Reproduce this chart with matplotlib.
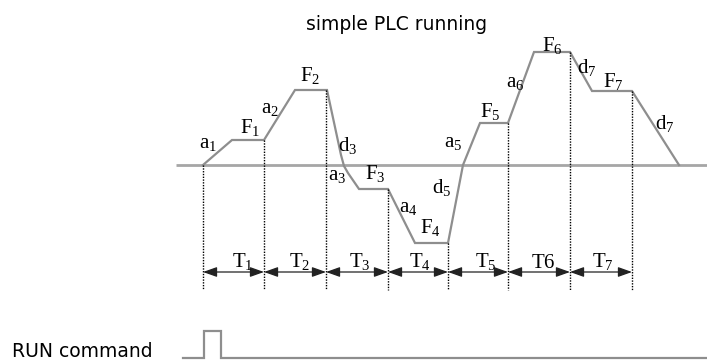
import numpy as np
import matplotlib
matplotlib.use("Agg")
import matplotlib.pyplot as plt

plt.rcParams['mathtext.fontset'] = 'custom'
plt.rcParams['mathtext.rm'] = 'Liberation Serif'
plt.rcParams['mathtext.it'] = 'Liberation Serif'

# ---- data (time axis, frequency axis; baseline frequency = 0) ----
profile_t = [203, 232, 264, 295, 327, 341, 344, 348, 359, 388, 415, 448, 463, 480, 508, 534, 570, 592, 632, 679]
profile_f = [0, 25, 25, 75, 75, 10, -1, -8, -24, -24, -78, -78, 0, 42, 42, 113, 113, 74, 74, 0]
seg_bounds = [203, 264, 326, 388, 448, 508, 570, 632]
seg_labels = [r'$\mathrm{T}_{1}$', r'$\mathrm{T}_{2}$', r'$\mathrm{T}_{3}$', r'$\mathrm{T}_{4}$',
              r'$\mathrm{T}_{5}$', r'$\mathrm{T6}$', r'$\mathrm{T}_{7}$']
curve_labels = [r'$\mathrm{a}_{1}$', r'$\mathrm{F}_{1}$', r'$\mathrm{a}_{2}$', r'$\mathrm{F}_{2}$',
                r'$\mathrm{d}_{3}$', r'$\mathrm{a}_{3}$', r'$\mathrm{F}_{3}$', r'$\mathrm{a}_{4}$',
                r'$\mathrm{F}_{4}$', r'$\mathrm{d}_{5}$', r'$\mathrm{a}_{5}$', r'$\mathrm{F}_{5}$',
                r'$\mathrm{a}_{6}$', r'$\mathrm{F}_{6}$', r'$\mathrm{d}_{7}$', r'$\mathrm{F}_{7}$',
                r'$\mathrm{d}_{7}$']
run_t = [183, 204, 204, 221, 221, 707]
run_level = [0, 0, 1, 1, 0, 0]

# ---- layout ----
W, H = 707, 362
fig = plt.figure(figsize=(W / 100, H / 100), dpi=100)
ax = fig.add_axes([0, 0, 1, 1])
ax.set_xlim(0, W)
ax.set_ylim(165 - H, 165)
ax.axis('off')

# baseline
ax.plot([176, 707], [0, 0], color='#a6a6a6', lw=2.0, solid_capstyle='butt')
# frequency profile
ax.plot(profile_t, profile_f, color='#8e8e8e', lw=1.6, solid_joinstyle='miter')

# dotted vertical lines
tops = np.interp(seg_bounds, profile_t, profile_f)
for t, top in zip(seg_bounds, tops):
    ax.plot([t, t], [top, -125], color='black', lw=1.0, linestyle=(0, (1, 1)))

# duration arrows
arrow_y = -107
for i in range(len(seg_bounds) - 1):
    ax.annotate('', xy=(seg_bounds[i + 1], arrow_y), xytext=(seg_bounds[i], arrow_y),
                arrowprops=dict(arrowstyle='<|-|>,head_length=0.7,head_width=0.25',
                                color='#222222', lw=0.9, shrinkA=0, shrinkB=0,
                                mutation_scale=12))
tlabel_x = [243, 300, 360, 420, 486, 543, 603]
for x, s in zip(tlabel_x, seg_labels):
    ax.text(x, -97, s, ha='center', va='center', fontsize=15, color='black')

# curve labels
label_pos = [(208, 22), (250, 38), (270, 57), (310, 89), (348, 20), (337, -10), (375, -8),
             (408, -42), (430, -63), (442, -22), (453, 23), (490, 53), (515, 83), (552, 120),
             (587, 98), (613, 83), (665, 42)]
for (x, y), s in zip(label_pos, curve_labels):
    ax.text(x, y, s, ha='center', va='center', fontsize=15, color='black')

# title
ax.text(397, 165 - 30, 'simple PLC running', ha='center', va='baseline',
        fontsize=13.5, family='DejaVu Sans', color='black')

# RUN command
run_base, run_high = -193, -166
ax.plot(run_t, [run_base + (run_high - run_base) * v for v in run_level],
        color='#8e8e8e', lw=1.6, solid_joinstyle='miter')
ax.text(12, 165 - 357, 'RUN command', ha='left', va='baseline', fontsize=13.5,
        family='DejaVu Sans', color='black')

fig.savefig('out.png', dpi=100)
